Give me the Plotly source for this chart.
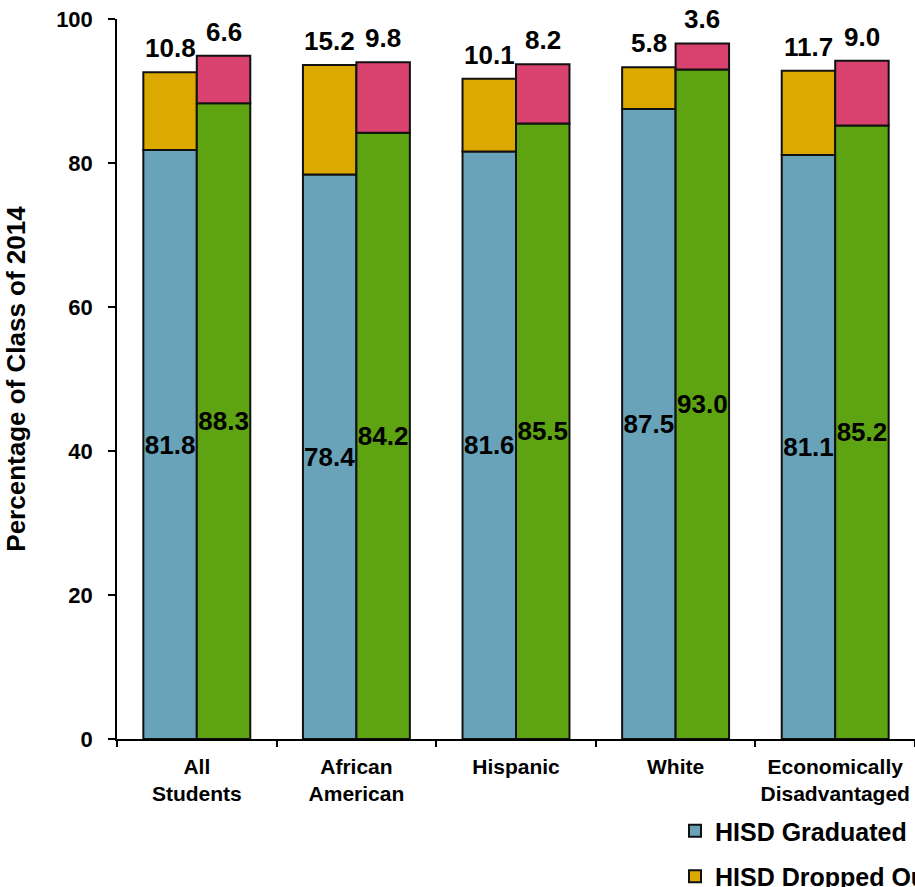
import plotly.graph_objects as go

# ---- data ----
categories = ["All<br>Students", "African<br>American", "Hispanic", "White",
              "Economically<br>Disadvantaged"]
hisd_graduated = [81.8, 78.4, 81.6, 87.5, 81.1]
hisd_dropped = [10.8, 15.2, 10.1, 5.8, 11.7]
texas_graduated = [88.3, 84.2, 85.5, 93.0, 85.2]
texas_dropped = [6.6, 9.8, 8.2, 3.6, 9.0]
y_ticks = [0, 20, 40, 60, 80, 100]
y_title = "Percentage of Class of 2014"

# ---- style ----
W, H = 915, 887
ML, MR, MT, MB = 117, 0, 19, 148
BARGAP = 0.33
FONT = "Liberation Sans, Arial, sans-serif"
BLUE, GOLD, GREEN, PINK = "#68A3BA", "#DCA900", "#5EA412", "#D9426E"
OUTLINE = dict(color="#111111", width=2)

plot_w = W - ML - MR
slot = plot_w / len(categories)
bar_px = slot * (1 - BARGAP) / 2
off = bar_px / 2


def fmt(vals):
    return [f"{v:.1f}" for v in vals]


lab_font = dict(family=FONT, size=26, color="black", weight="bold")

fig = go.Figure()
fig.add_trace(go.Bar(
    name="HISD Graduated", x=categories, y=hisd_graduated, offsetgroup="hisd",
    legendgroup="g1", marker=dict(color=BLUE, line=OUTLINE),
    text=fmt(hisd_graduated), textposition="inside", insidetextanchor="middle",
    textangle=0, constraintext="none", insidetextfont=lab_font, cliponaxis=False,
))
fig.add_trace(go.Bar(
    name="HISD Dropped Out", x=categories, y=hisd_dropped, base=hisd_graduated,
    offsetgroup="hisd", legendgroup="g2", marker=dict(color=GOLD, line=OUTLINE),
))
fig.add_trace(go.Bar(
    name="Texas Graduated", x=categories, y=texas_graduated, offsetgroup="tx",
    legendgroup="g3", marker=dict(color=GREEN, line=OUTLINE),
    text=fmt(texas_graduated), textposition="inside", insidetextanchor="middle",
    textangle=0, constraintext="none", insidetextfont=lab_font, cliponaxis=False,
))
fig.add_trace(go.Bar(
    name="Texas Dropped Out", x=categories, y=texas_dropped, base=texas_graduated,
    offsetgroup="tx", legendgroup="g4", marker=dict(color=PINK, line=OUTLINE),
))

annotations = []
for cat, g, d in zip(categories, hisd_graduated, hisd_dropped):
    annotations.append(dict(x=cat, y=g + d, xref="x", yref="y", text=f"{d:.1f}",
                            showarrow=False, xshift=-off, yshift=24,
                            yanchor="middle", font=lab_font))
for cat, g, d in zip(categories, texas_graduated, texas_dropped):
    annotations.append(dict(x=cat, y=g + d, xref="x", yref="y", text=f"{d:.1f}",
                            showarrow=False, xshift=off, yshift=24,
                            yanchor="middle", font=lab_font))

fig.update_layout(
    template="none",
    width=W, height=H,
    margin=dict(l=ML, r=MR, t=MT, b=MB, autoexpand=False),
    paper_bgcolor="white", plot_bgcolor="white",
    barmode="group", bargap=BARGAP, bargroupgap=0,
    font=dict(family=FONT, color="black"),
    annotations=annotations,
    showlegend=True,
    legend=dict(
        xref="container", yref="container", x=675 / W, xanchor="left",
        y=1 - 808 / H, yanchor="top", orientation="v",
        traceorder="grouped", tracegroupgap=10, maxheight=600,
        font=dict(family=FONT, size=25, color="black", weight="bold"),
        bgcolor="rgba(0,0,0,0)", borderwidth=0,
    ),
    xaxis=dict(
        type="category", showgrid=False, zeroline=False,
        showline=True, linecolor="black", linewidth=1.5,
        ticks="outside", tickson="boundaries", ticklen=6, tickwidth=1.5,
        tickcolor="black", ticklabelstandoff=8, ticklabeloverflow="allow",
        tickfont=dict(family=FONT, size=21, color="black", weight="bold"),
    ),
    yaxis=dict(
        range=[0, 100], tickvals=y_ticks, showgrid=False, zeroline=False,
        showline=True, linecolor="black", linewidth=1.5,
        ticks="outside", ticklen=7, tickwidth=1.5, tickcolor="black",
        ticklabelstandoff=11, ticklabeloverflow="allow",
        tickfont=dict(family=FONT, size=22, color="black", weight="bold"),
        title=dict(text=y_title, standoff=23,
                   font=dict(family=FONT, size=26, color="black", weight="bold")),
    ),
)

fig.write_html(
    "out.html",
    config={"displayModeBar": False},
    post_script="document.body.style.margin='0';document.body.style.overflow='hidden';",
)
